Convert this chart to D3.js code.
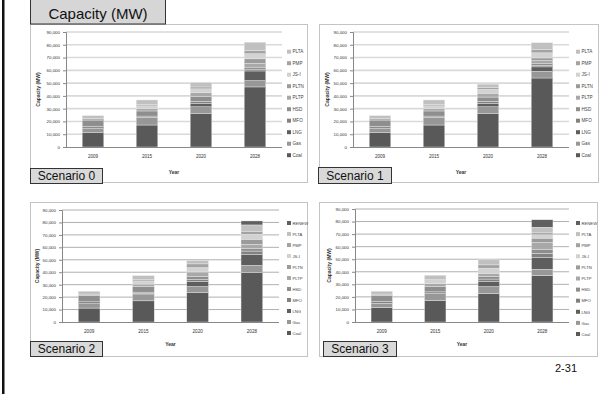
<!DOCTYPE html>
<html>
<head>
<meta charset="utf-8">
<script src="https://cdn.jsdelivr.net/npm/d3@7"></script>
<style>
  body { margin: 0; background: #fff; }
  svg { display: block; font-family: "Liberation Sans", Arial, sans-serif; }
</style>
</head>
<body>
<svg id="chart" width="609" height="394"></svg>
<script>
// Data
const years = ["2009", "2015", "2020", "2028"];
const fuels = ["Coal", "Gas", "LNG", "MFO", "HSD", "PLTP", "PLTN", "JS-I", "PMP", "PLTA", "RENEW"];
const yTicks = [0, 10000, 20000, 30000, 40000, 50000, 60000, 70000, 80000, 90000];

// one row per fuel (same order as fuels), one value per year
const scenario0 = [
    [11500, 17200, 26000, 47000],
    [3300, 6000, 5500, 5000],
    [0, 0, 2500, 7500],
    [1500, 1000, 1800, 1000],
    [4800, 4000, 3500, 2000],
    [1100, 2000, 3200, 3000],
    [0, 0, 0, 3500],
    [0, 2000, 3000, 4000],
    [0, 1000, 1500, 2500],
    [2300, 3600, 3500, 6500]
];
const scenario1 = [
    [11500, 17200, 26000, 54000],
    [3300, 6000, 5500, 5200],
    [0, 0, 2500, 3500],
    [1500, 1000, 1800, 1000],
    [4800, 4000, 3300, 1500],
    [1100, 2000, 3000, 2500],
    [0, 0, 0, 2000],
    [0, 2000, 3000, 4000],
    [0, 1000, 1500, 2500],
    [2300, 3600, 2600, 5400]
];
const scenario2 = [
    [11200, 17000, 23500, 40000],
    [3500, 5500, 5000, 5500],
    [0, 500, 4200, 9000],
    [1500, 1000, 1500, 2500],
    [5000, 4500, 2500, 2000],
    [1200, 2000, 3500, 3500],
    [0, 0, 0, 4000],
    [0, 2500, 3500, 4000],
    [0, 1000, 3000, 2000],
    [2300, 3200, 2800, 5500],
    [0, 0, 0, 3200]
];
const scenario3 = [
    [11500, 17000, 22600, 37000],
    [3300, 5500, 5600, 5000],
    [0, 500, 4000, 9300],
    [1500, 1000, 2000, 3500],
    [4800, 4500, 2000, 3200],
    [1100, 2000, 2600, 5300],
    [0, 0, 0, 3500],
    [0, 2500, 4000, 2600],
    [0, 1000, 2700, 1600],
    [2300, 3200, 4000, 4500],
    [0, 0, 0, 5900]
];

const fuelColor = {
    "Coal": "#595959", "Gas": "#979797", "LNG": "#5e5e5e", "MFO": "#818181",
    "HSD": "#8e8e8e", "PLTP": "#a8a8a8", "PLTN": "#9b9b9b", "JS-I": "#d2d2d2",
    "PMP": "#a3a3a3", "PLTA": "#c0c0c0", "RENEW": "#5f5f5f"
};

const svg = d3.select("#chart");

// left black rule
svg.append("rect").attr("x", 2).attr("y", 0).attr("width", 2.5).attr("height", 394).attr("fill", "#111");

function drawPanel(p) {
    const g = svg.append("g");
    const keys = fuels.slice(0, p.values.length);

    // panel frame
    g.append("rect")
        .attr("x", p.box[0] + 0.5).attr("y", p.box[1] + 0.5)
        .attr("width", p.box[2] - p.box[0]).attr("height", p.box[3] - p.box[1])
        .attr("fill", "#fff").attr("stroke", "#c4c4c4");

    const x = d3.scaleBand().domain(years).range([p.left, p.right]).paddingInner(0.6).paddingOuter(0.3);
    const y = d3.scaleLinear().domain([0, 90000]).range([p.bottom, p.top]);

    // gridlines
    g.selectAll(".grid").data(yTicks.slice(1)).join("line")
        .attr("x1", p.left).attr("x2", p.right)
        .attr("y1", d => y(d)).attr("y2", d => y(d))
        .attr("stroke", p.gridColor).attr("stroke-width", p.gridWidth);

    // stacked bars
    const rows = years.map((yr, i) => {
        const r = { year: yr };
        keys.forEach((k, j) => r[k] = p.values[j][i]);
        return r;
    });
    const stack = d3.stack().keys(keys)(rows);
    g.selectAll(".layer").data(stack).join("g")
        .attr("fill", d => fuelColor[d.key])
        .selectAll("rect").data(d => d).join("rect")
        .attr("x", d => x(d.data.year))
        .attr("width", x.bandwidth())
        .attr("y", d => y(d[1]))
        .attr("height", d => y(d[0]) - y(d[1]))
        .attr("stroke", "#ececec").attr("stroke-width", 0.4);

    // y axis
    const yAxis = g.append("g")
        .attr("transform", `translate(${p.left},0)`)
        .call(d3.axisLeft(y).tickValues(yTicks).tickFormat(d3.format(",")).tickSize(3).tickPadding(3));
    yAxis.selectAll("text").attr("font-size", 4.4).attr("fill", "#333");
    yAxis.selectAll("line").attr("stroke", "#888");
    yAxis.select(".domain").attr("stroke", "#888");

    // x axis
    const xAxis = g.append("g")
        .attr("transform", `translate(0,${p.bottom})`)
        .call(d3.axisBottom(x).tickSize(0).tickPadding(8));
    xAxis.selectAll("text").attr("font-size", 4.6).attr("fill", "#333");
    xAxis.select(".domain").attr("stroke", "#888").attr("d", `M${p.left},0.5H${p.right}`);

    // axis titles
    g.append("text").attr("x", (p.left + p.right) / 2).attr("y", p.yearY)
        .attr("text-anchor", "middle").attr("font-size", 5).attr("font-weight", "bold").attr("fill", "#333")
        .text("Year");
    g.append("text")
        .attr("transform", `translate(${p.ylabX},${(p.top + p.bottom) / 2}) rotate(-90)`)
        .attr("text-anchor", "middle").attr("font-size", 5).attr("font-weight", "bold").attr("fill", "#333")
        .text("Capacity (MW)");

    // legend (top = last key)
    const legendKeys = keys.slice().reverse();
    const lg = g.selectAll(".leg").data(legendKeys).join("g")
        .attr("transform", (d, i) => `translate(${p.legX},${p.legY + i * p.legStep})`);
    lg.append("rect").attr("x", 0).attr("y", -2).attr("width", 4).attr("height", 4)
        .attr("fill", d => fuelColor[d]);
    lg.append("text").attr("x", 5.5).attr("y", 1.7).attr("font-size", p.legFont).attr("fill", "#444")
        .text(d => d);

    // scenario label
    g.append("rect")
        .attr("x", p.tag[0] + 0.5).attr("y", p.tag[1] + 0.5)
        .attr("width", p.tag[2] - p.tag[0]).attr("height", p.tag[3] - p.tag[1])
        .attr("fill", "#d9d9d9").attr("stroke", "#333");
    g.append("text")
        .attr("x", (p.tag[0] + p.tag[2]) / 2 + 0.5).attr("y", p.tag[3] - 3)
        .attr("text-anchor", "middle").attr("font-size", 12).attr("fill", "#111")
        .text(p.name);
}

drawPanel({
    name: "Scenario 0", values: scenario0,
    box: [30, 24, 307, 182], left: 66, right: 282, top: 32, bottom: 147,
    yearY: 174, ylabX: 40, legX: 287, legY: 51.7, legStep: 11.5, legFont: 4.6,
    gridColor: "#d9d9d9", gridWidth: 1.6, tag: [30, 168, 102, 183]
});
drawPanel({
    name: "Scenario 1", values: scenario1,
    box: [319, 24, 598, 182], left: 353, right: 569, top: 32, bottom: 147,
    yearY: 174, ylabX: 329, legX: 576, legY: 51.7, legStep: 11.5, legFont: 4.6,
    gridColor: "#d9d9d9", gridWidth: 1.6, tag: [318, 167, 391, 183]
});
drawPanel({
    name: "Scenario 2", values: scenario2,
    box: [30, 202, 307, 356], left: 62, right: 279, top: 210, bottom: 322,
    yearY: 346, ylabX: 39, legX: 287, legY: 223, legStep: 11, legFont: 4.2,
    gridColor: "#b0b0b0", gridWidth: 1, tag: [30, 341, 102, 356]
});
drawPanel({
    name: "Scenario 3", values: scenario3,
    box: [319, 202, 597, 356], left: 355, right: 569, top: 209, bottom: 322,
    yearY: 346, ylabX: 331, legX: 576, legY: 223, legStep: 11.1, legFont: 4.2,
    gridColor: "#b0b0b0", gridWidth: 1, tag: [323, 341, 396, 356]
});

// main title box
svg.append("rect").attr("x", 30.5).attr("y", -1).attr("width", 135).attr("height", 25)
    .attr("fill", "#d6d6d6").attr("stroke", "#333");
svg.append("text").attr("x", 98).attr("y", 19).attr("text-anchor", "middle")
    .attr("font-size", 15).attr("fill", "#111").text("Capacity (MW)");

// page number
svg.append("text").attr("x", 566).attr("y", 372).attr("text-anchor", "middle")
    .attr("font-size", 11).attr("fill", "#111").text("2-31");
</script>
</body>
</html>
